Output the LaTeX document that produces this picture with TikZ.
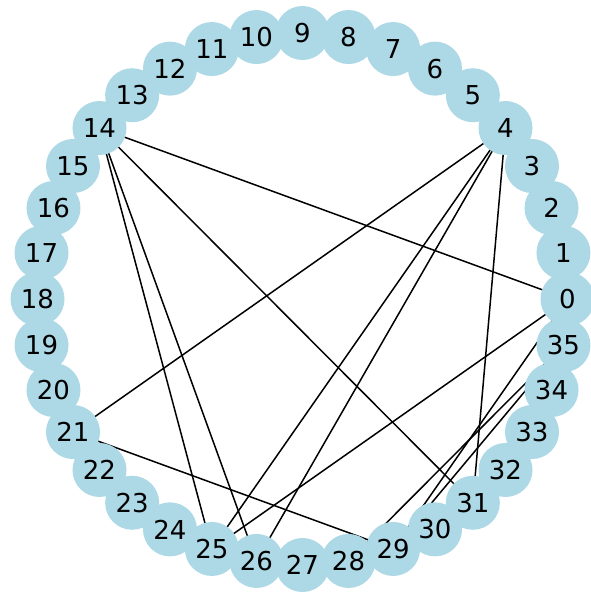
\documentclass[tikz,border=0pt]{standalone}
\usepackage{fontspec}
\setmainfont{DejaVu Sans}
\usetikzlibrary{backgrounds}
\definecolor{nodeblue}{HTML}{ADD8E6}
\tikzset{
  nd/.style={circle, fill=nodeblue, draw=none, minimum size=54pt, inner sep=0pt,
    font=\fontsize{26}{30}\selectfont, text=black},
  edge/.style={draw=black, line width=1.5pt}
}
\begin{document}
\begin{tikzpicture}[x=1pt,y=-1pt]
\useasboundingbox (0,0) rectangle (590,595);
\foreach \i in {0,...,35}{
  \node[nd] (n\i) at ({302.5+265*cos(10*\i)}, {299-266*sin(10*\i)}) {\i};
}
\begin{scope}[on background layer]
\fill[white] (0,0) rectangle (590,595);
\foreach \a/\b in {14/0,14/25,14/26,14/31,4/21,4/25,4/26,4/31,0/25,0/29,35/29,35/28,21/29}{
  \draw[edge] (n\a.center) -- (n\b.center);
}
\end{scope}
\end{tikzpicture}
\end{document}
